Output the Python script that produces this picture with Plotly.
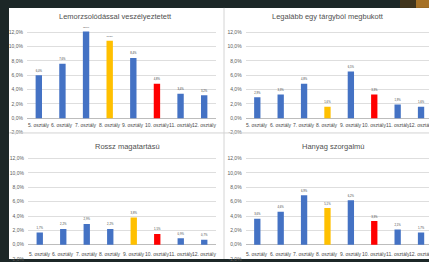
import plotly.graph_objects as go

W, H = 429, 262

categories = ["5. osztály", "6. osztály", "7. osztály", "8. osztály",
              "9. osztály", "10. osztály", "11. osztály", "12. osztály"]

titles = ["Lemorzsolódással veszélyeztetett", "Legalább egy tárgyból megbukott",
          "Rossz magatartású", "Hanyag szorgalmú"]

vals_lemorzsolodas = [6.0, 7.6, 12.1, 10.8, 8.4, 4.8, 3.4, 3.2]
vals_megbukott = [2.9, 3.3, 4.8, 1.6, 6.5, 3.3, 1.9, 1.6]
vals_magatartas = [1.7, 2.2, 2.9, 2.2, 3.8, 1.5, 0.9, 0.7]
vals_szorgalom = [3.6, 4.6, 6.9, 5.1, 6.2, 3.3, 2.1, 1.7]

BLUE, YEL, RED = "#4472C4", "#FFC000", "#FF0000"
colors_a = [BLUE, BLUE, BLUE, YEL, BLUE, RED, BLUE, BLUE]
colors_b = [BLUE, BLUE, BLUE, BLUE, YEL, RED, BLUE, BLUE]

y_ticks = [-2, 0, 2, 4, 6, 8, 10, 12]
y_tick_labels = ["-2,0%", "0,0%", "2,0%", "4,0%", "6,0%", "8,0%", "10,0%", "12,0%"]

def fx(px):
    return px / W

def fy(py):
    return 1 - py / H

fig = go.Figure()

shapes = [
    dict(type="rect", xref="paper", yref="paper", x0=fx(9), x1=1, y0=0, y1=fy(8),
         fillcolor="#ffffff", line_width=0, layer="below"),
    dict(type="rect", xref="paper", yref="paper", x0=fx(400), x1=1, y0=fy(8), y1=1,
         fillcolor="#5a3f18", line_width=0, layer="below", opacity=0.6),
    dict(type="rect", xref="paper", yref="paper", x0=fx(416), x1=1, y0=fy(8), y1=1,
         fillcolor="#c8862a", line_width=0, layer="below", opacity=0.75),
    dict(type="line", xref="paper", yref="paper", x0=fx(224), x1=fx(224), y0=0, y1=fy(8),
         line=dict(color="#d4d4d4", width=1)),
    dict(type="line", xref="paper", yref="paper", x0=fx(9), x1=1, y0=fy(134.5), y1=fy(134.5),
         line=dict(color="#d4d4d4", width=1)),
]

panels = [
    (vals_lemorzsolodas, colors_a, (27, 216), 119.5, [-0.5, 7.5], -1.0, 115, 17),
    (vals_megbukott, colors_a, (245.6, 429), 119.5, [-0.5, 7.34], -1.0, 328, 17),
    (vals_magatartas, colors_b, (28, 216), 247.5, [-0.5, 7.5], -1.3, 127, 148),
    (vals_szorgalom, colors_a, (245.6, 429), 247.5, [-0.5, 7.34], -1.3, 333, 148),
]

SCALE = 7.25
YMIN, YMAX = -2.0, 12.6
annotations = []
for i, (vals, cols, (xa, xb), y0, xr, laby, tx, ty) in enumerate(panels, start=1):
    xname = "x" if i == 1 else f"x{i}"
    yname = "y" if i == 1 else f"y{i}"
    fig.add_trace(go.Bar(
        x=list(range(len(categories))), y=vals, marker_color=cols, marker_line_width=0,
        text=[f"{v:.1f}%".replace(".", ",") for v in vals], textposition="outside",
        textfont=dict(size=5.5, color="#3c3c3c", family="Liberation Sans"),
        cliponaxis=False, xaxis=xname, yaxis=yname, showlegend=False,
    ))
    ybot = y0 - YMIN * SCALE
    ytop = y0 - YMAX * SCALE
    fig.update_layout(**{
        ("xaxis" if i == 1 else f"xaxis{i}"): dict(
            domain=[fx(xa), min(1, fx(xb))], range=xr, anchor=yname,
            showticklabels=False, showgrid=False, zeroline=False, showline=False,
            fixedrange=True),
        ("yaxis" if i == 1 else f"yaxis{i}"): dict(
            domain=[max(0, fy(ybot)), fy(ytop)], range=[YMIN, YMAX], anchor=xname,
            tickvals=y_ticks, ticktext=y_tick_labels,
            tickfont=dict(size=5, color="#5a5a5a", family="Liberation Sans"),
            showgrid=True, gridcolor="#dedede", gridwidth=1,
            zeroline=True, zerolinecolor="#bdbdbd", zerolinewidth=1,
            showline=False, ticks="", ticklabelstandoff=3, fixedrange=True),
    })
    for k, c in enumerate(categories):
        annotations.append(dict(
            x=k, y=laby, xref=xname, yref=yname, text=c, showarrow=False,
            font=dict(size=5, color="#4a4a4a", family="Liberation Sans"),
            xanchor="center", yanchor="middle"))
    annotations.append(dict(
        x=fx(tx), y=fy(ty), xref="paper", yref="paper", text=titles[i - 1],
        showarrow=False, font=dict(size=7.5, color="#505050", family="Liberation Sans"),
        xanchor="center", yanchor="middle"))

fig.update_layout(
    width=W, height=H, margin=dict(l=0, r=0, t=0, b=0),
    paper_bgcolor="#1c2727", plot_bgcolor="rgba(0,0,0,0)",
    bargap=0.73, shapes=shapes, annotations=annotations,
)

fig.write_html(
    "out.html",
    config={"displayModeBar": False, "staticPlot": True},
    post_script="document.body.style.margin='0';document.body.style.overflow='hidden';"
                "document.body.style.background='#1c2727';",
)
